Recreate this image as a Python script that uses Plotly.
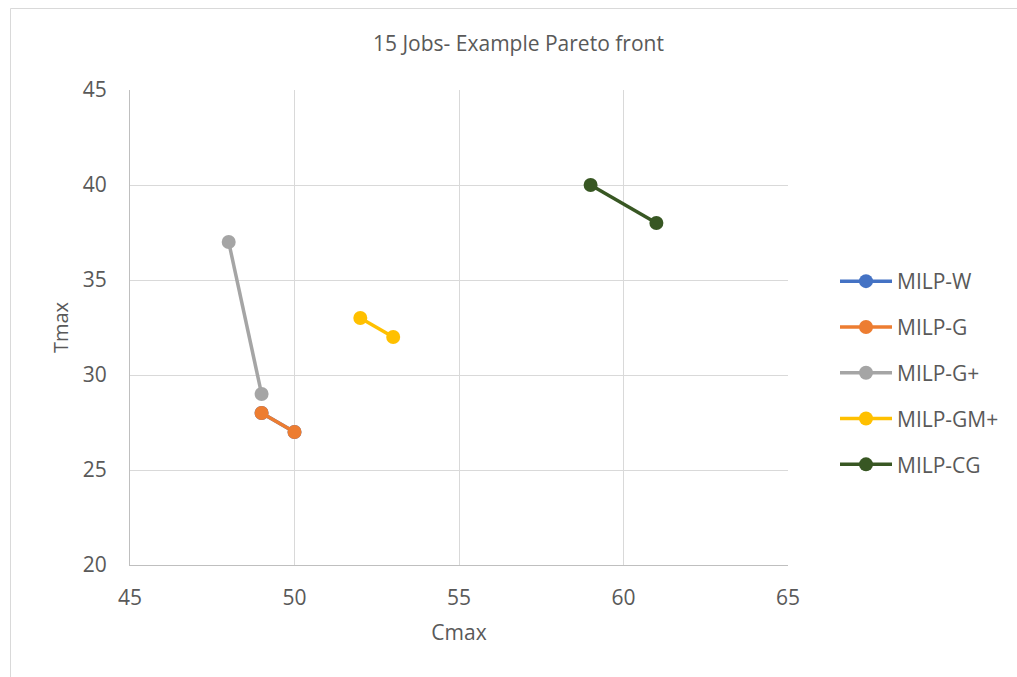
import plotly.graph_objects as go

# Pareto front points (Cmax, Tmax) for each formulation
series_names = ["MILP-W", "MILP-G", "MILP-G+", "MILP-GM+", "MILP-CG"]
cmax_w = [49, 50]
tmax_w = [28, 27]
cmax_g = [49, 50]
tmax_g = [28, 27]
cmax_gp = [48, 49]
tmax_gp = [37, 29]
cmax_gmp = [52, 53]
tmax_gmp = [33, 32]
cmax_cg = [59, 61]
tmax_cg = [40, 38]

colors = ["#4472C4", "#ED7D31", "#A5A5A5", "#FFC000", "#385723"]
xs = [cmax_w, cmax_g, cmax_gp, cmax_gmp, cmax_cg]
ys = [tmax_w, tmax_g, tmax_gp, tmax_gmp, tmax_cg]

W, H = 1017, 677
L, R, T, B = 130, 229, 90, 112

fig = go.Figure()
for name, x, y, c in zip(series_names, xs, ys, colors):
    fig.add_trace(go.Scatter(
        x=x, y=y, name=name, mode="lines+markers",
        legendgroup=name,
        line=dict(color=c, width=3.5),
        marker=dict(color=c, size=14),
    ))

grid = "#d9d9d9"
text_col = "#595959"
font = "Open Sans, Noto Sans, sans-serif"

pw = W - L - R
ph = H - T - B

def px_to_paper_x(px):
    return (px - L) / pw

def px_to_paper_y(py):
    return (H - B - py) / ph

fig.update_layout(
    width=W, height=H,
    margin=dict(l=L, r=R, t=T, b=B),
    paper_bgcolor="white", plot_bgcolor="white",
    showlegend=True,
    legend=dict(
        x=px_to_paper_x(835), y=px_to_paper_y(261), xanchor="left", yanchor="top",
        font=dict(family=font, size=21, color=text_col),
        tracegroupgap=15.5, itemwidth=52,
        bgcolor="rgba(0,0,0,0)",
    ),
    annotations=[dict(
        text="15 Jobs- Example Pareto front", xref="paper", yref="paper",
        x=px_to_paper_x(518), y=px_to_paper_y(43), xanchor="center", yanchor="middle",
        showarrow=False, font=dict(family=font, size=21, color=text_col),
    )],
    shapes=[dict(
        type="rect", xref="paper", yref="paper", layer="below",
        x0=px_to_paper_x(10.5), x1=px_to_paper_x(W + 5),
        y0=px_to_paper_y(H + 5), y1=px_to_paper_y(8.5),
        line=dict(color=grid, width=1), fillcolor="rgba(0,0,0,0)",
    )],
)

fig.update_xaxes(
    range=[45, 65], tickvals=[45, 50, 55, 60, 65],
    showgrid=True, gridcolor=grid, gridwidth=1,
    showline=True, linecolor="#bfbfbf", linewidth=1,
    zeroline=False,
    ticks="outside", ticklen=14, tickcolor="rgba(0,0,0,0)",
    tickfont=dict(family=font, size=21, color=text_col),
    title=dict(text="Cmax", font=dict(family=font, size=21, color=text_col), standoff=15),
)
fig.update_yaxes(
    range=[20, 45], tickvals=[20, 25, 30, 35, 40, 45],
    showgrid=True, gridcolor=grid, gridwidth=1,
    showline=True, linecolor="#bfbfbf", linewidth=1,
    zeroline=False,
    ticks="outside", ticklen=18, tickcolor="rgba(0,0,0,0)",
    tickfont=dict(family=font, size=21, color=text_col),
    title=dict(text="Tmax", font=dict(family=font, size=20, color=text_col), standoff=8),
)

fig.write_html("out.html")
